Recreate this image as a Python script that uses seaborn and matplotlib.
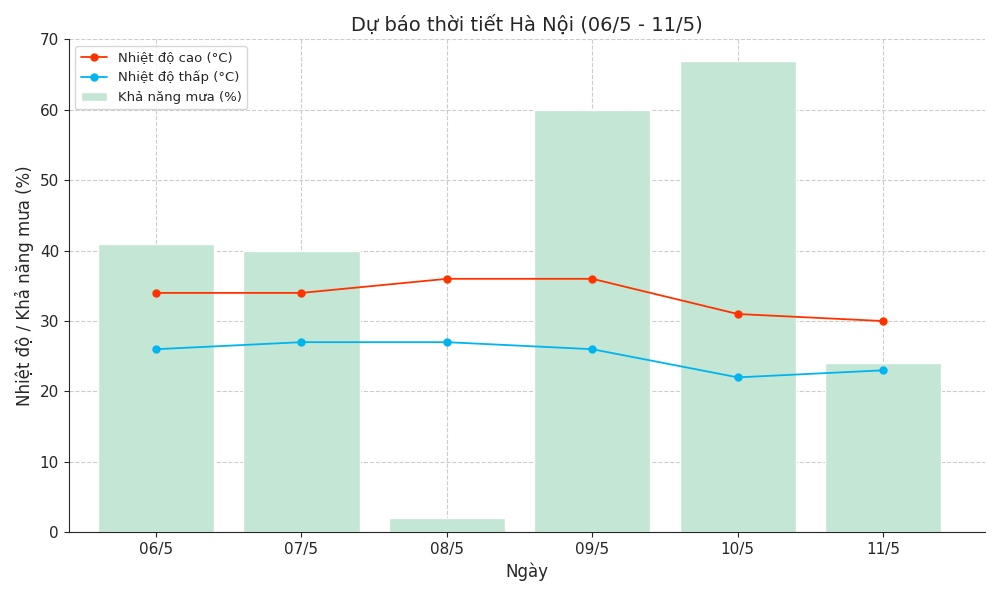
import numpy as np
import pandas as pd
import matplotlib
matplotlib.use("Agg")
import matplotlib.pyplot as plt
import seaborn as sns

days = ["06/5", "07/5", "08/5", "09/5", "10/5", "11/5"]
temp_high = [34, 34, 36, 36, 31, 30]
temp_low = [26, 27, 27, 26, 22, 23]
rain_chance = [41, 40, 2, 60, 67, 24]

sns.set_style("ticks")
plt.rcParams['font.family'] = ['DejaVu Sans']

df = pd.DataFrame({"day": days, "high": temp_high, "low": temp_low, "rain": rain_chance})

fig, ax = plt.subplots(figsize=(10, 5.96), dpi=100)

sns.barplot(data=df, x="day", y="rain", color="#c4e6d4", saturation=1, width=0.8,
            ax=ax, label="Khả năng mưa (%)", zorder=1)
x = np.arange(len(days))
ax.plot(x, df["high"], marker="o", markersize=5, color="#ff3300", lw=1.3,
        label="Nhiệt độ cao (°C)", zorder=3)
ax.plot(x, df["low"], marker="o", markersize=5, color="#00b4f0", lw=1.3,
        label="Nhiệt độ thấp (°C)", zorder=3)

ax.set_ylim(0, 70)
ax.set_xlim(-0.6, 5.7)
ax.grid(True, linestyle="--", color="#cccccc", linewidth=0.8)
ax.set_axisbelow(True)
sns.despine(ax=ax)

ax.set_title("Dự báo thời tiết Hà Nội (06/5 - 11/5)", fontsize=14)
ax.set_xlabel("Ngày", fontsize=12)
ax.set_ylabel("Nhiệt độ / Khả năng mưa (%)", fontsize=12)
ax.tick_params(labelsize=11)

h, l = ax.get_legend_handles_labels()
order = [l.index("Nhiệt độ cao (°C)"), l.index("Nhiệt độ thấp (°C)"), l.index("Khả năng mưa (%)")]
ax.legend([h[i] for i in order], [l[i] for i in order], loc="upper left", fontsize=9.5)

plt.tight_layout()
plt.savefig("out.png")
